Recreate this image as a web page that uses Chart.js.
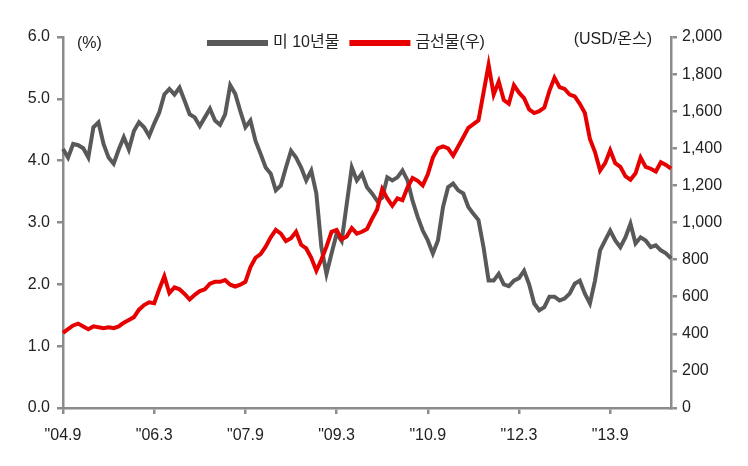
<!DOCTYPE html>
<html>
<head>
<meta charset="utf-8">
<script src="https://cdn.jsdelivr.net/npm/chart.js@4.4.1/dist/chart.umd.min.js"></script>
<style>
  html, body { margin: 0; padding: 0; background: #fff; }
  #wrap { width: 748px; height: 466px; position: relative; }
</style>
</head>
<body>
<div id="wrap"><canvas id="goldChart"></canvas></div>
<script>
// Monthly points, Sep 2004 .. Sep 2014
const months = [];
for (let y = 2004, m = 9; months.length < 121; m++) {
    if (m > 12) { m = 1; y++; }
    months.push(y + '-' + String(m).padStart(2, '0'));
}

// x-axis ticks
const tickMonths = ['2004-09', '2006-03', '2007-09', '2009-03', '2010-09', '2012-03', '2013-09'];
const tickLabels = ['"04.9', '"06.3', '"07.9', '"09.3', '"10.9', '"12.3', '"13.9'];

// US 10-year treasury yield (%), left axis
const us10y = [
    4.19, 4.05, 4.27, 4.25, 4.20, 4.05, 4.54, 4.62, 4.27, 4.05,
    3.95, 4.18, 4.38, 4.18, 4.48, 4.62, 4.54, 4.40, 4.60, 4.78,
    5.07, 5.16, 5.07, 5.18, 4.97, 4.75, 4.70, 4.56, 4.70, 4.84,
    4.65, 4.58, 4.75, 5.22, 5.08, 4.80, 4.54, 4.65, 4.32, 4.11,
    3.89, 3.79, 3.52, 3.60, 3.89, 4.16, 4.05, 3.89, 3.68, 3.84,
    3.47, 2.60, 2.17, 2.50, 2.82, 2.70, 3.30, 3.89, 3.68, 3.79,
    3.57, 3.47, 3.35, 3.40, 3.73, 3.68, 3.73, 3.84, 3.68, 3.35,
    3.09, 2.87, 2.71, 2.50, 2.71, 3.25, 3.57, 3.63, 3.52, 3.47,
    3.25, 3.14, 3.04, 2.60, 2.06, 2.06, 2.17, 2.00, 1.97, 2.06,
    2.10, 2.22, 2.00, 1.69, 1.58, 1.63, 1.80, 1.80, 1.74, 1.77,
    1.85, 2.01, 2.06, 1.85, 1.69, 2.06, 2.55, 2.71, 2.87, 2.71,
    2.60, 2.76, 2.98, 2.66, 2.76, 2.71, 2.60, 2.63, 2.55, 2.50,
    2.42
];

// Gold futures (USD/oz), right axis
const goldFutures = [
    405, 425, 445, 455, 440, 425, 440, 435, 430, 435,
    430, 440, 460, 475, 490, 530, 555, 570, 565, 640,
    710, 620, 650, 640, 615, 585, 610, 630, 640, 670,
    680, 680, 690, 665, 655, 665, 680, 760, 810, 830,
    870, 920, 960, 940, 900, 915, 950, 880, 860, 810,
    740, 800, 870, 950, 960, 910, 925, 970, 940, 950,
    965, 1020, 1070, 1180, 1130, 1090, 1130, 1120, 1190, 1240,
    1225, 1200, 1260, 1350, 1400, 1410, 1400, 1360, 1410, 1460,
    1510, 1530, 1550, 1700, 1850, 1690, 1760, 1660, 1640, 1740,
    1700, 1670, 1610, 1590, 1600, 1620, 1710, 1780, 1730, 1720,
    1690, 1680, 1640, 1590, 1450, 1380, 1280, 1320, 1390, 1320,
    1300, 1250, 1230, 1265, 1350, 1300, 1290, 1275, 1325, 1310,
    1290
];

const GRAY = '#595959';
const RED = '#e60000';
const AXIS = '#8c8c8c';
const FONT = '"Liberation Sans", Arial, sans-serif';
const KFONT = '"Liberation Sans", "Noto Sans CJK KR", sans-serif';

// legend and unit captions sit inside the plot area, so draw them by hand
const overlayText = {
    id: 'overlayText',
    afterDraw(chart) {
        const { ctx, chartArea } = chart;
        ctx.save();
        ctx.font = '16px ' + KFONT;
        ctx.textBaseline = 'middle';
        ctx.fillStyle = '#222';

        let x = chartArea.left + 144;
        const y = chartArea.top + 6;
        chart.data.datasets.forEach(ds => {
            ctx.fillStyle = ds.borderColor;
            ctx.fillRect(x, y - 3, 61, 6);
            x += 66;
            ctx.fillStyle = '#222';
            ctx.textAlign = 'left';
            ctx.fillText(ds.label, x, y);
            x += ctx.measureText(ds.label).width + 10;
        });

        ctx.textAlign = 'left';
        ctx.fillText('(%)', chartArea.left + 14, chartArea.top + 7);
        ctx.textAlign = 'right';
        ctx.fillText('(USD/온스)', chartArea.right - 19, chartArea.top + 3);
        ctx.restore();
    }
};

const axisLine = {
    grid: { drawOnChartArea: false, drawTicks: true, tickLength: 6, color: AXIS, lineWidth: 2.5 },
    border: { display: true, color: AXIS, width: 2.5 },
};

const ctx = document.getElementById('goldChart').getContext('2d');
new Chart(ctx, {
    type: 'line',
    data: {
        labels: months,
        datasets: [
            {
                label: '미 10년물',
                data: us10y,
                yAxisID: 'y',
                borderColor: GRAY,
                backgroundColor: GRAY,
                borderWidth: 4,
                pointRadius: 0,
                tension: 0,
                order: 1,
            },
            {
                label: '금선물(우)',
                data: goldFutures,
                yAxisID: 'y1',
                borderColor: RED,
                backgroundColor: RED,
                borderWidth: 4,
                pointRadius: 0,
                tension: 0,
                order: 0,
            },
        ],
    },
    options: {
        responsive: true,
        maintainAspectRatio: false,
        animation: false,
        layout: { padding: { top: 37, left: 0, right: 0, bottom: 0 } },
        plugins: {
            legend: { display: false },
            tooltip: { enabled: false },
        },
        scales: {
            x: {
                ...axisLine,
                offset: false,
                afterBuildTicks: scale => {
                    scale.ticks = scale.ticks.filter(t => tickMonths.includes(months[t.value]));
                },
                afterFit: scale => { scale.height = 58; },
                ticks: {
                    autoSkip: false,
                    maxRotation: 0,
                    padding: 12,
                    color: '#222',
                    font: { family: FONT, size: 16 },
                    callback: v => tickLabels[tickMonths.indexOf(months[v])],
                },
            },
            y: {
                ...axisLine,
                position: 'left',
                min: 0,
                max: 6,
                afterFit: scale => { scale.width = 63; },
                ticks: {
                    stepSize: 1,
                    padding: 7,
                    color: '#222',
                    font: { family: FONT, size: 16 },
                    callback: v => v.toFixed(1),
                },
            },
            y1: {
                ...axisLine,
                position: 'right',
                min: 0,
                max: 2000,
                afterFit: scale => { scale.width = 77; },
                ticks: {
                    stepSize: 200,
                    padding: 5,
                    color: '#222',
                    font: { family: FONT, size: 16 },
                    callback: v => v.toLocaleString('en-US'),
                },
            },
        },
    },
    plugins: [overlayText],
});
</script>
</body>
</html>
